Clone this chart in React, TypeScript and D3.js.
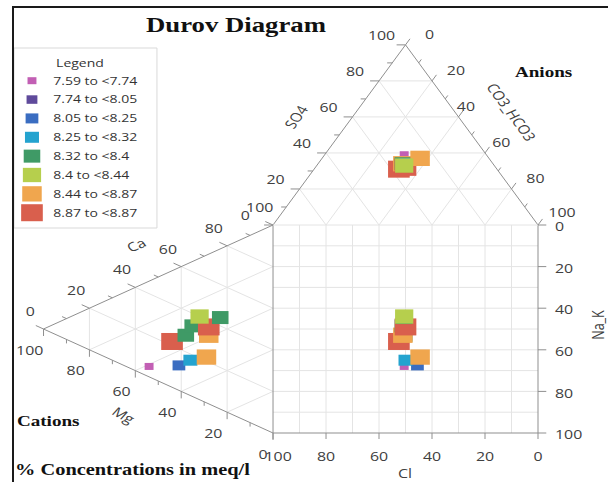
import * as d3 from "d3";

// legend classes (pH ranges)
const classLabels = [
  "7.59 to <7.74",
  "7.74 to <8.05",
  "8.05 to <8.25",
  "8.25 to <8.32",
  "8.32 to <8.4",
  "8.4 to <8.44",
  "8.44 to <8.87",
  "8.87 to <8.87",
];
const classColors = ["#c25fb4", "#5f4a9b", "#3a6dc1", "#24a3cf", "#3f9a66", "#b6cf4d", "#f0a64e", "#d95f4d"];
const classSizes = [7, 8.5, 10, 11, 13, 14.3, 15.3, 17];

// samples, listed in drawing order (% meq/l)
const sampleClass = [0, 2, 7, 4, 6, 4, 7, 4, 3, 6, 5];
const ca = [5, 12, 22, 28, 33, 34, 37, 44, 17, 22, 40];
const mg = [54, 41, 44, 38, 28, 35, 28, 23, 36, 29, 32];
const naK = [41, 47, 34, 34, 39, 31, 35, 33, 47, 49, 28];
const so4 = [39, 37, 31, 33, 34, 34, 32, 33, 34, 37, 33];
const hco3 = [30, 36, 32, 33, 32, 32, 34, 33, 33, 37, 33];
const cl = [31, 27, 37, 34, 34, 34, 34, 34, 33, 26, 34];

const axisTicks = [0, 20, 40, 60, 80, 100];
const minorTicks = [10, 30, 50, 70, 90];

const W = 608, H = 482;
const KX = 1.274; // the whole figure is stretched sideways
const S = 208;
const TH = (S * Math.sqrt(3)) / 2;
const sqL = 214.3, sqT = 225, sqR = sqL + S, sqB = sqT + S;

const clX = d3.scaleLinear().domain([100, 0]).range([sqL, sqR]);
const nakY = d3.scaleLinear().domain([0, 100]).range([sqT, sqB]);
const so4Y = d3.scaleLinear().domain([0, 100]).range([sqT, sqT - TH]);
const mgX = d3.scaleLinear().domain([0, 100]).range([sqL, sqL - TH]);

type P = [number, number];
// anion triangle: SO4 at the apex, Cl bottom-left, HCO3 bottom-right
const topPt = (s: number, c: number): P => [clX(c + s / 2), so4Y(s)];
// cation triangle: Mg at the left apex, Ca top-right, Na_K bottom-right
const leftPt = (m: number, n: number): P => [mgX(m), nakY(n + m / 2)];

const gridSteps = [20, 40, 60, 80];
const lineGen = d3.line<P>();

const gridLines: [P, P][] = [];
gridSteps.forEach((v) => {
  gridLines.push([topPt(v, 100 - v), topPt(v, 0)]);
  gridLines.push([topPt(0, v), topPt(100 - v, v)]);
  gridLines.push([topPt(100 - v, 0), topPt(0, 100 - v)]);
  gridLines.push([leftPt(v, 0), leftPt(v, 100 - v)]);
  gridLines.push([leftPt(0, v), leftPt(100 - v, v)]);
  gridLines.push([leftPt(100 - v, 0), leftPt(0, 100 - v)]);
});
d3.range(10, 100, 10).forEach((v) => {
  gridLines.push([[clX(v), sqT], [clX(v), sqB]]);
  gridLines.push([[sqL, nakY(v)], [sqR, nakY(v)]]);
});

type Axis = { pt: (v: number) => P; dir: P; off: P; nudge?: Record<number, P> };
const triAxes: Axis[] = [
  { pt: (v) => topPt(v, 100 - v), dir: [-1, 0], off: [-18.8, -10], nudge: { 0: [-3, 0] } }, // SO4
  // labels 40 / 60 sit a bit inwards, clear of the axis title
  { pt: (v) => topPt(100 - v, 0), dir: [0.5, -0.866], off: [18.8, -11], nudge: { 40: [-13, 0], 60: [-6, 0], 100: [0, -2] } }, // CO3_HCO3
  { pt: (v) => leftPt(100 - v, 0), dir: [-0.866, -0.5], off: [-10.4, -17.7] }, // Ca
  { pt: (v) => leftPt(v, 100 - v), dir: [0, 1], off: [-10.8, 20.8], nudge: { 0: [3, 0] } }, // Mg
];

const axisColor = "#8f8f8f";
const gridColor = "#e4e4e4";
const labelColor = "#404040";
const sans = "'Open Sans', sans-serif";
const serif = "'Liberation Serif', 'Times New Roman', serif";

const App = () => {
  const ns = { vectorEffect: "non-scaling-stroke" as const };
  const samples = sampleClass.map((k, i) => ({
    k,
    tri1: topPt(so4[i], cl[i]),
    tri2: leftPt(mg[i], naK[i]),
    sq: [clX(cl[i] + so4[i] / 2), nakY(naK[i] + mg[i] / 2)] as P,
    ca: ca[i],
    hco3: hco3[i],
  }));

  const mark = (p: P, k: number, key: string) => {
    const s = classSizes[k];
    return <rect key={key} x={p[0] - s / 2} y={p[1] - s / 2} width={s} height={s} fill={classColors[k]} />;
  };

  return (
    <svg width={W} height={H} style={{ position: "absolute", left: 0, top: 0, background: "#fff" }}>
      <rect width={W} height={H} fill="#fff" />
      <g transform={`scale(${KX},1)`}>
        {/* grid */}
        {gridLines.map((l, i) => (
          <path key={"g" + i} d={lineGen(l) ?? ""} stroke={gridColor} strokeWidth={1} fill="none" style={ns} />
        ))}

        {/* triangle outlines and square axes */}
        <path d={lineGen([[sqL, sqT], [sqL + S / 2, sqT - TH], [sqR, sqT]]) ?? ""} fill="none" stroke={axisColor} style={ns} />
        <path d={(lineGen([[sqL, sqT], [sqL - TH, sqT + S / 2], [sqL, sqB]]) ?? "") + "Z"} fill="none" stroke={axisColor} style={ns} />
        <path d={lineGen([[sqR, sqT], [sqR, sqB], [sqL, sqB]]) ?? ""} fill="none" stroke={axisColor} style={ns} />
        <line x1={sqL} x2={sqR} y1={sqT} y2={sqT} stroke={gridColor} style={ns} />

        {/* triangle ticks and labels */}
        {triAxes.map((a, ai) => (
          <g key={"ax" + ai}>
            {axisTicks.concat(minorTicks).map((v) => {
              const p = a.pt(v);
              const len = v % 20 === 0 ? 7 : 4;
              return (
                <line key={v} x1={p[0]} y1={p[1]} x2={p[0] + a.dir[0] * len} y2={p[1] + a.dir[1] * len} stroke={axisColor} style={ns} />
              );
            })}
            {axisTicks.map((v) => {
              const p = a.pt(v);
              const [dx, dy] = a.nudge?.[v] ?? [0, 0];
              return (
                <text key={"t" + v} x={p[0] + a.off[0] + dx} y={p[1] + a.off[1] + dy} textAnchor="middle" dominantBaseline="central"
                  fontFamily={sans} fontSize={12.5} fill={labelColor}>{v}</text>
              );
            })}
          </g>
        ))}

        {/* square axes: Cl along the bottom, Na_K on the right */}
        {axisTicks.map((v) => (
          <g key={"sx" + v}>
            <line x1={clX(v)} x2={clX(v)} y1={sqB} y2={sqB + 6} stroke={axisColor} style={ns} />
            <text x={clX(v) + (v === 100 ? 4 : 0)} y={456.7} textAnchor="middle" dominantBaseline="central" fontFamily={sans} fontSize={12.5} fill={labelColor}>{v}</text>
            <line x1={sqR} x2={sqR + 6.5} y1={nakY(v)} y2={nakY(v)} stroke={axisColor} style={ns} />
            <text x={sqR + 13.3} y={nakY(v) + 1.5} dominantBaseline="central" fontFamily={sans} fontSize={12.5} fill={labelColor}>{v}</text>
          </g>
        ))}

        {/* axis titles */}
        <g fontFamily={sans} fontSize={12.5} fill={labelColor} textAnchor="middle" dominantBaseline="central">
          <text transform="translate(232.3,117) rotate(-60)">SO4</text>
          <text transform="translate(401.5,112) rotate(60)">CO3_HCO3</text>
          <text transform="translate(106.8,245) rotate(-30)">Ca</text>
          <text transform="translate(97,415) rotate(35)">Mg</text>
          <text x={318} y={473}>Cl</text>
          <text transform="translate(469.4,325) rotate(-90)">Na_K</text>
        </g>

        {/* samples */}
        {samples.map((d, i) => mark(d.tri1, d.k, "a" + i))}
        {samples.map((d, i) => mark(d.tri2, d.k, "c" + i))}
        {samples.map((d, i) => mark(d.sq, d.k, "s" + i))}

        {/* bold captions */}
        <g fontFamily={serif} fontWeight="bold" fill="#111">
          <text x={185.2} y={32} textAnchor="middle" fontSize={21}>Durov Diagram</text>
          <text x={404.2} y={77} fontSize={15}>Anions</text>
          <text x={13.3} y={426} fontSize={15}>Cations</text>
          <text x={11.8} y={475} fontSize={16}>% Concentrations in meq/l</text>
        </g>

        {/* legend */}
        <rect x={11} y={48} width={112.2} height={180} fill="#fff" stroke="#d9d9d9" style={ns} />
        <text x={62.8} y={63} textAnchor="middle" dominantBaseline="central" fontFamily={sans} fontSize={11} fill="#333">Legend</text>
        {classLabels.map((lab, k) => {
          const cy = 80.7 + k * 18.86;
          return (
            <g key={"l" + k}>
              {mark([25.1, cy], k, "lm" + k)}
              <text x={41.8} y={cy} dominantBaseline="central" fontFamily={sans} fontSize={11} fill="#333">{lab}</text>
            </g>
          );
        })}
      </g>
      <path d={`M13,${H} V7 H${W}`} fill="none" stroke="#1a1a1a" strokeWidth={2} />
    </svg>
  );
};

export default App;
